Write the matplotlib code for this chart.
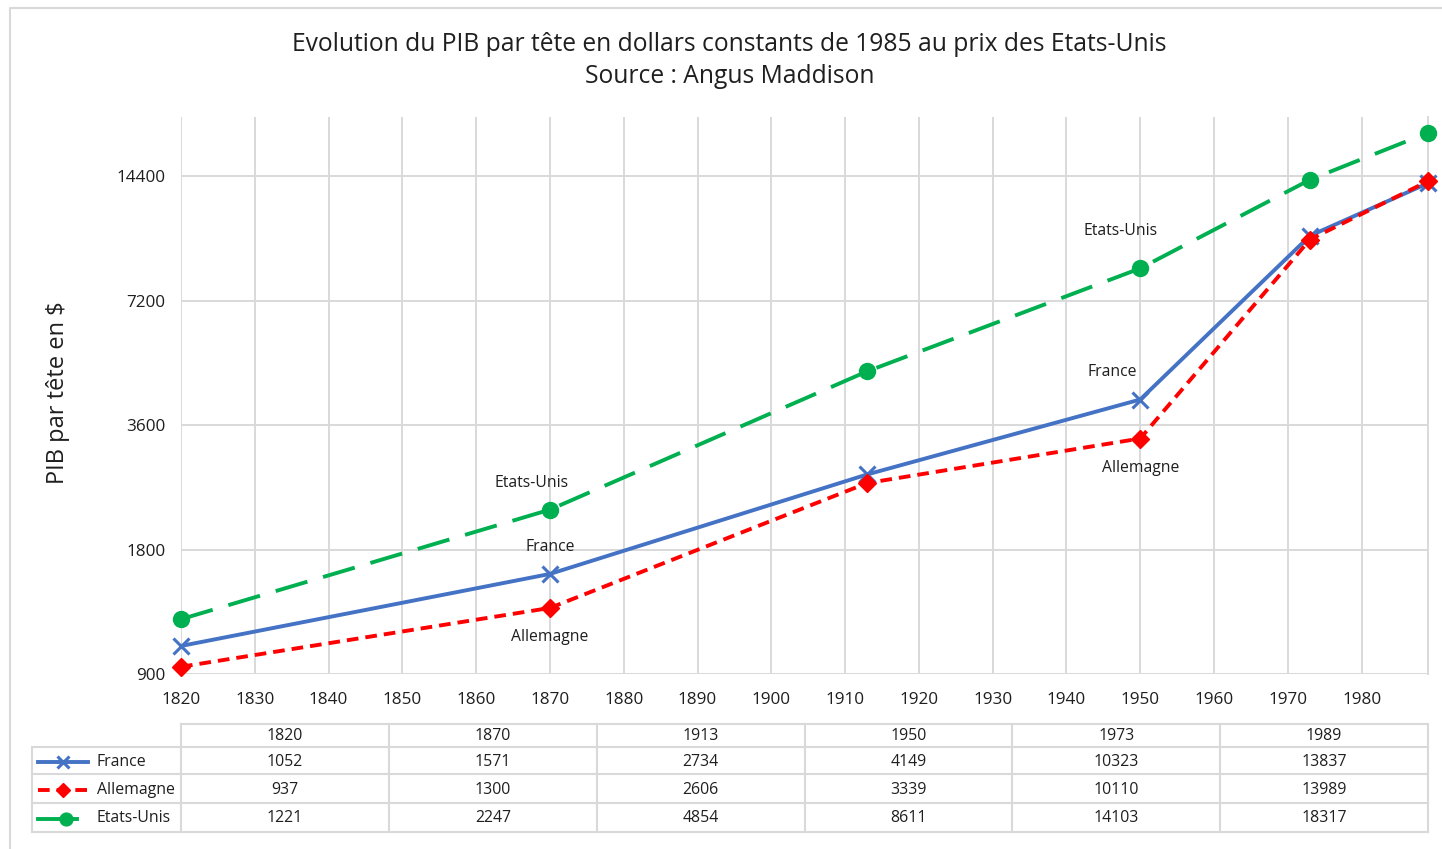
import matplotlib
matplotlib.use('Agg')
import matplotlib.pyplot as plt
from matplotlib.ticker import NullLocator, NullFormatter

# Donnees (Angus Maddison)
annees = [1820, 1870, 1913, 1950, 1973, 1989]
france = [1052, 1571, 2734, 4149, 10323, 13837]
allemagne = [937, 1300, 2606, 3339, 10110, 13989]
etats_unis = [1221, 2247, 4854, 8611, 14103, 18317]
pays = ['France', 'Allemagne', 'Etats-Unis']
series = [france, allemagne, etats_unis]
y_ticks = [900, 1800, 3600, 7200, 14400]
x_ticks = list(range(1820, 1990, 10))

titre = ('Evolution du PIB par tête en dollars constants de 1985 au prix des Etats-Unis\n'
         'Source : Angus Maddison')

styles = {
    'France': dict(color='#4472C4', ls='-', marker='x', ms=11, mew=2.2),
    'Allemagne': dict(color='#FF0000', ls=(0, (3, 1.8)), marker='D', ms=9),
    'Etats-Unis': dict(color='#00B050', ls=(0, (8.5, 4.2)), marker='o', ms=11.5),
}

# etiquettes de donnees : (pays, index de l'annee, decalage en points)
etiquettes = [
    ('Etats-Unis', 1, (-13, 19)), ('France', 1, (0, 19.5)), ('Allemagne', 1, (0, -21)),
    ('Etats-Unis', 3, (-14, 27)), ('France', 3, (-20, 20)), ('Allemagne', 3, (0, -21)),
]

W, H = 1442, 849
fig = plt.figure(figsize=(W / 100, H / 100), dpi=100)
font = 'Open Sans'
plt.rcParams['font.family'] = [font, 'DejaVu Sans']
gris = '#D9D9D9'
texte = '#1F1F1F'

# fond en pixels pour le cadre et le tableau
bg = fig.add_axes([0, 0, 1, 1], zorder=0)
bg.set_xlim(0, W)
bg.set_ylim(H, 0)
bg.axis('off')
bg.plot([10, 10, W], [H, 8, 8], color=gris, lw=1.5)

ax = fig.add_axes([181 / W, 1 - 674 / H, (1428 - 181) / W, (674 - 117) / H], zorder=1)
ax.patch.set_alpha(0)
for nom, vals in zip(pays, series):
    st = styles[nom]
    ax.plot(annees, vals, lw=2.8, dash_capstyle='butt', clip_on=False, zorder=3, **st)

for nom, i, off in etiquettes:
    vals = series[pays.index(nom)]
    ax.annotate(nom, (annees[i], vals[i]), xytext=off, textcoords='offset points',
                ha='center', va='center', fontsize=11.3, color=texte)

ax.set_yscale('log', base=2)
ax.set_ylim(900, 20000)
ax.set_xlim(1820, 1989)
ax.set_yticks(y_ticks)
ax.set_yticklabels([str(v) for v in y_ticks])
ax.yaxis.set_minor_locator(NullLocator())
ax.yaxis.set_minor_formatter(NullFormatter())
ax.set_xticks(x_ticks)
ax.tick_params(length=0, labelsize=12.3, colors=texte)
ax.tick_params(axis='x', pad=13)
ax.tick_params(axis='y', pad=11)
ax.grid(True, color=gris, lw=1.4, zorder=0)
for s in ['top', 'left', 'bottom']:
    ax.spines[s].set_visible(False)
ax.spines['right'].set_color(gris)
ax.spines['right'].set_linewidth(1.4)
ax.set_ylabel('PIB par tête en $', fontsize=17, color=texte)
ax.yaxis.set_label_coords(-0.089, 0.505)

fig.text(0.506, 1 - 60.5 / H, titre, ha='center', va='center', fontsize=17.7,
         color=texte, linespacing=1.4)

# tableau de donnees
x0, x1 = 181, 1428
col_w = (x1 - x0) / len(annees)
rows = [724, 747, 774, 803, 832]
leg_x = 32
bg.plot([x0, x1], [rows[0], rows[0]], color=gris, lw=1.5)
for r in rows[1:]:
    bg.plot([leg_x, x1], [r, r], color=gris, lw=1.5)
bg.plot([leg_x, leg_x], [rows[1], rows[-1]], color=gris, lw=1.5)
for j in range(len(annees) + 1):
    xx = x0 + j * col_w
    bg.plot([xx, xx], [rows[0], rows[-1]], color=gris, lw=1.5)

fs_tab = 11.4
leg_lignes = {'France': (38, 88, 63, '-'), 'Allemagne': (38, 88, 63, None),
              'Etats-Unis': (38, 77, 66, '-')}
for j, a in enumerate(annees):
    bg.text(x0 + (j + 0.5) * col_w, (rows[0] + rows[1]) / 2 + 1, str(a),
            ha='center', va='center', fontsize=fs_tab, color=texte)
for k, (nom, vals) in enumerate(zip(pays, series)):
    yc = (rows[k + 1] + rows[k + 2]) / 2 + 1
    st = dict(styles[nom])
    ms = st.pop('ms')
    xa, xb, xm, ls = leg_lignes[nom]
    if ls is not None:
        st['ls'] = ls
    bg.plot([xa, xb], [yc, yc], lw=2.8, dash_capstyle='butt', markevery=[], **st)
    bg.plot([xm], [yc], marker=st['marker'], color=st['color'], ms=ms * 0.8,
            mew=st.get('mew', 1), ls='none')
    bg.text(97, yc, nom, ha='left', va='center', fontsize=fs_tab, color=texte)
    for j, v in enumerate(vals):
        bg.text(x0 + (j + 0.5) * col_w, yc, str(v), ha='center', va='center',
                fontsize=fs_tab, color=texte)

fig.savefig('out.png', dpi=100)
